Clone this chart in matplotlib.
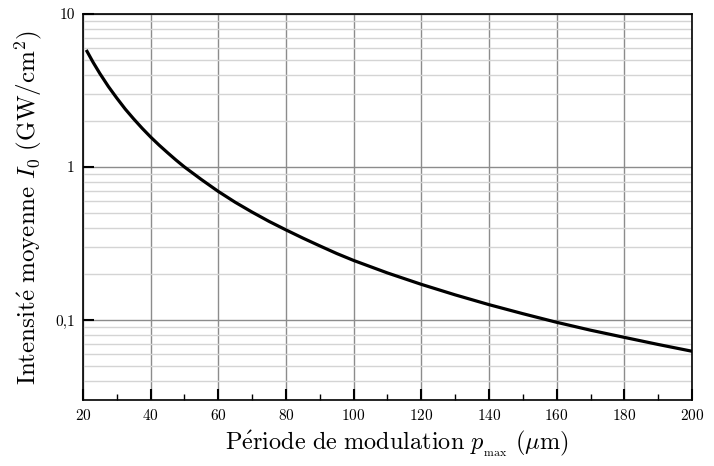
import numpy as np
import matplotlib
matplotlib.use("Agg")
from matplotlib import pyplot as plt
from matplotlib.ticker import FixedLocator, NullFormatter

plt.rcParams["font.family"] = ["cmr10", "DejaVu Serif"]
plt.rcParams["mathtext.fontset"] = "cm"
plt.rcParams["axes.formatter.use_mathtext"] = True

# values
periode = [21.2, 23, 25, 27.5, 30, 32.5, 35, 37.5, 40, 42.5, 45, 47.5, 50,
           55, 60, 65, 70, 75, 80, 85, 90, 95, 100, 110, 120,
           130, 140, 150, 160, 170, 180, 190, 200]
intensite = [5.7, 4.83, 4.08, 3.36, 2.82, 2.39, 2.06, 1.79, 1.57, 1.39, 1.24, 1.11, 1.0,
             0.828, 0.692, 0.588, 0.507, 0.441, 0.388, 0.343, 0.305, 0.272, 0.245,
             0.203, 0.171, 0.146, 0.126, 0.110, 0.0966, 0.0858, 0.077, 0.0692, 0.0625]

x_ticks = [20, 40, 60, 80, 100, 120, 140, 160, 180, 200]
y_ticks = [0.1, 1, 10]
y_tick_labels = ["0,1", "1", "10"]

fig = plt.figure(figsize=(7.14, 4.66), dpi=100)
ax = fig.add_axes([0.1162, 0.1416, 0.853, 0.8284])

ax.set_yscale("log")
ax.set_xlim(20, 200)
ax.set_ylim(0.03, 10)

ax.set_xticks(x_ticks)
ax.set_xticks(np.arange(30, 200, 20), minor=True)
ax.set_yticks(y_ticks)
ax.set_yticklabels(y_tick_labels)
minor_y = [m * 10.0**e for e in (-2, -1, 0) for m in range(2, 10)]
ax.yaxis.set_minor_locator(FixedLocator(minor_y))
ax.yaxis.set_minor_formatter(NullFormatter())

ax.grid(True, which="major", axis="x", color="#8c8c8c", lw=1.0)
ax.grid(True, which="major", axis="y", color="#8c8c8c", lw=1.0)
ax.grid(True, which="minor", axis="y", color="#d4d4d4", lw=1.0)

ax.tick_params(which="major", direction="in", length=8, width=1.5, labelsize=11, pad=6)
ax.tick_params(which="minor", direction="in", length=4, width=1.0)
ax.tick_params(axis="y", which="minor", length=0)

for s in ax.spines.values():
    s.set_linewidth(1.2)

ax.plot(periode, intensite, color="black", lw=2.3)

ax.set_xlabel(r"$\mathrm{P\acute{e}riode\ de\ modulation}\ p_{_{\rm max}}\ (\mu\mathrm{m})$",
              fontsize=17.5, labelpad=4)
ax.xaxis.set_label_coords(0.516, -0.075)
ax.set_ylabel(r"$\mathrm{Intensit\acute{e}\ moyenne}\ I_0\ (\mathrm{GW/cm^2})$",
              fontsize=18, labelpad=8)

fig.savefig("out.png", dpi=100)
